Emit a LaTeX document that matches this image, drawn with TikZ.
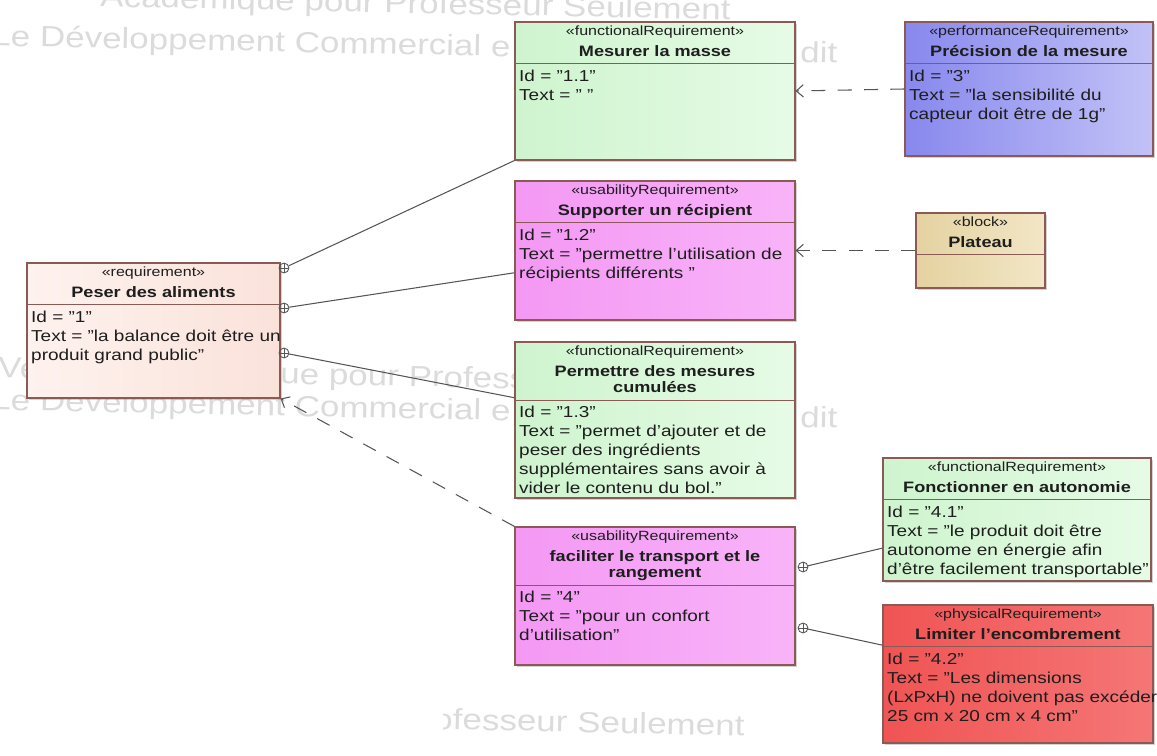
\documentclass[tikz,border=0pt]{standalone}
\usepackage{fontspec}
\setmainfont{Liberation Sans}[FakeStretch=1.2]
\usetikzlibrary{positioning,arrows.meta,fit,shadows}

\definecolor{reqborder}{HTML}{8C5A55}
\definecolor{linkgrey}{HTML}{555555}
\definecolor{reqtext}{HTML}{1E1E1E}

\begin{document}
\begin{tikzpicture}[
  x=0.02cm, y=-0.02cm,
  box/.style={draw=reqborder, line width=0.6pt, inner sep=0pt,
    drop shadow={shadow xshift=1.1pt, shadow yshift=-1.1pt, opacity=0.35}},
  peserbox/.style={box, left color={rgb,255:red,254;green,242;blue,238}, right color={rgb,255:red,250;green,226;blue,218}},
  greenbox/.style={box, left color={rgb,255:red,206;green,244;blue,206}, right color={rgb,255:red,230;green,251;blue,230}},
  bluebox/.style={box, left color={rgb,255:red,136;green,136;blue,238}, right color={rgb,255:red,194;green,194;blue,247}},
  pinkbox/.style={box, left color={rgb,255:red,244;green,152;blue,244}, right color={rgb,255:red,248;green,180;blue,248}},
  tanbox/.style={box, left color={rgb,255:red,228;green,210;blue,160}, right color={rgb,255:red,242;green,230;blue,198}},
  redbox/.style={box, left color={rgb,255:red,240;green,84;blue,84}, right color={rgb,255:red,245;green,118;blue,118}},
  stereo/.style={font=\fontsize{7.6}{9}\selectfont, text=reqtext, inner sep=0pt, text height=6.2pt, text depth=2.8pt},
  reqtitle/.style={font=\bfseries\fontsize{8.6}{9.4}\selectfont, text=reqtext, inner xsep=0pt, inner ysep=1pt,
    text height=7.5pt, text depth=3.1pt, align=center},
  reqtitletwo/.style={reqtitle, text height=16.9pt},
  body/.style={font=\fontsize{9}{10.8}\selectfont, text=reqtext, inner xsep=2.5pt, inner ysep=3.2pt,
    align=left, anchor=north west},
  divline/.style={draw=reqborder, line width=0.6pt},
  link/.style={draw=linkgrey, line width=0.6pt},
  dep/.style={draw=linkgrey, line width=0.6pt, dash pattern=on 8pt off 7pt,
    -{Straight Barb[length=4pt,width=7pt]}},
  oplus/.style={circle, draw=linkgrey, line width=0.5pt, inner sep=0pt, minimum size=5.6pt,
    path picture={\draw[linkgrey, line width=0.45pt]
      (path picture bounding box.north) -- (path picture bounding box.south)
      (path picture bounding box.west) -- (path picture bounding box.east);}},
  wmtext/.style={font=\fontsize{16.6}{18}\selectfont, text=gray!28, inner sep=0pt, anchor=west, rotate=-1.2}
]

\useasboundingbox (0,0) rectangle (1157,756);

% watermark
\begin{scope}
\clip (0,0) rectangle (1157,756);
\node[wmtext] (wm1) at (100,-1) {Académique pour Professeur Seulement};
\node[wmtext] (wm2) at (-9,38) {Le Développement Commercial e};
\node[wmtext] (wm3) at (800,52) {dit};
\node[wmtext] (wm4) at (-2,370) {Version Académique pour Professeur Seulement};
\node[wmtext] (wm5) at (-9,402) {Le Développement Commercial e};
\node[wmtext] (wm6) at (800,417) {dit};
\end{scope}
\begin{scope}
\clip (443,690) rectangle (900,756);
\node[wmtext] (wm7) at (398,718) {Professeur Seulement};
\end{scope}

% Peser des aliments
\node[peserbox, fit={(27,263) (280,398)}] (peser) {};
\node[stereo, below=1.7pt of peser.north] (peserS) {«requirement»};
\node[reqtitle, below=0pt of peserS] (peserT) {Peser des aliments};
\draw[divline] (peser.west |- peserT.south) -- (peser.east |- peserT.south);
\node[body] (peserB) at (peser.west |- peserT.south) {Id = "1"\\Text = "la balance doit être un\\produit grand public"};

% Mesurer la masse
\node[greenbox, fit={(515,22) (795,160)}] (mesure) {};
\node[stereo, below=1.7pt of mesure.north] (mesureS) {«functionalRequirement»};
\node[reqtitle, below=0pt of mesureS] (mesureT) {Mesurer la masse};
\draw[divline] (mesure.west |- mesureT.south) -- (mesure.east |- mesureT.south);
\node[body] (mesureB) at (mesure.west |- mesureT.south) {Id = "1.1"\\Text = " "};

% Precision de la mesure
\node[bluebox, fit={(905,22) (1153,156)}] (prec) {};
\node[stereo, below=1.7pt of prec.north] (precS) {«performanceRequirement»};
\node[reqtitle, below=0pt of precS] (precT) {Précision de la mesure};
\draw[divline] (prec.west |- precT.south) -- (prec.east |- precT.south);
\node[body] (precB) at (prec.west |- precT.south) {Id = "3"\\Text = "la sensibilité du\\capteur doit être de 1g"};

% Supporter un recipient
\node[pinkbox, fit={(515,181) (795,320)}] (supp) {};
\node[stereo, below=1.7pt of supp.north] (suppS) {«usabilityRequirement»};
\node[reqtitle, below=0pt of suppS] (suppT) {Supporter un récipient};
\draw[divline] (supp.west |- suppT.south) -- (supp.east |- suppT.south);
\node[body] (suppB) at (supp.west |- suppT.south) {Id = "1.2"\\Text = "permettre l'utilisation de\\récipients différents "};

% Plateau
\node[tanbox, fit={(916,213) (1045,288)}] (plat) {};
\node[stereo, below=1.7pt of plat.north] (platS) {«block»};
\node[reqtitle, below=0pt of platS] (platT) {Plateau};
\draw[divline] (plat.west |- platT.south) -- (plat.east |- platT.south);

% Permettre des mesures cumulees
\node[greenbox, fit={(515,342) (795,498)}] (perm) {};
\node[stereo, below=1.7pt of perm.north] (permS) {«functionalRequirement»};
\node[reqtitletwo, below=0pt of permS] (permT) {Permettre des mesures\\cumulées};
\draw[divline] (perm.west |- permT.south) -- (perm.east |- permT.south);
\node[body] (permB) at (perm.west |- permT.south) {Id = "1.3"\\Text = "permet d'ajouter et de\\peser des ingrédients\\supplémentaires sans avoir à\\vider le contenu du bol."};

% Fonctionner en autonomie
\node[greenbox, fit={(883,458) (1151,581)}] (fonct) {};
\node[stereo, below=1.7pt of fonct.north] (fonctS) {«functionalRequirement»};
\node[reqtitle, below=0pt of fonctS] (fonctT) {Fonctionner en autonomie};
\draw[divline] (fonct.west |- fonctT.south) -- (fonct.east |- fonctT.south);
\node[body] (fonctB) at (fonct.west |- fonctT.south) {Id = "4.1"\\Text = "le produit doit être\\autonome en énergie afin\\d'être facilement transportable"};

% faciliter le transport
\node[pinkbox, fit={(515,527) (795,665)}] (facil) {};
\node[stereo, below=1.7pt of facil.north] (facilS) {«usabilityRequirement»};
\node[reqtitletwo, below=0pt of facilS] (facilT) {faciliter le transport et le\\rangement};
\draw[divline] (facil.west |- facilT.south) -- (facil.east |- facilT.south);
\node[body] (facilB) at (facil.west |- facilT.south) {Id = "4"\\Text = "pour un confort\\d'utilisation"};

% Limiter l'encombrement
\node[redbox, fit={(883,605) (1153,743)}] (lim) {};
\node[stereo, below=1.7pt of lim.north] (limS) {«physicalRequirement»};
\node[reqtitle, below=0pt of limS] (limT) {Limiter l'encombrement};
\draw[divline] (lim.west |- limT.south) -- (lim.east |- limT.south);
\node[body] (limB) at (lim.west |- limT.south) {Id = "4.2"\\Text = "Les dimensions\\(LxPxH) ne doivent pas excéder\\25 cm x 20 cm x 4 cm"};

% containment
\node[oplus] (pc1) at (284,268) {};
\node[oplus] (pc2) at (284,308) {};
\node[oplus] (pc3) at (284,353) {};
\node[oplus] (fc1) at (803,567) {};
\node[oplus] (fc2) at (803,628) {};

\draw[link] (pc1) -- (mesure.south west);
\draw[link] (pc2) -- (supp.189);
\draw[link] (pc3) -- (perm.171);
\draw[link] (fc1) -- (fonct.192);
\draw[link] (fc2) -- (lim.168);

% dependencies
\draw[dep] (prec.west) -- (mesure.east);
\draw[dep] (plat.west) -- (supp.east);
\draw[dep] (facil.north west) -- (peser.south east);

\end{tikzpicture}
\end{document}
